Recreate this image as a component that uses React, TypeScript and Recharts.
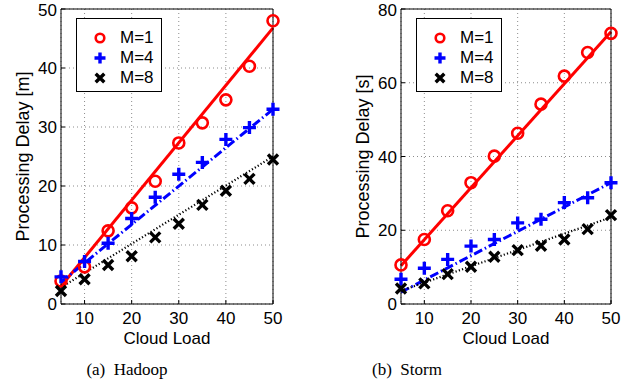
import React from 'react';
import {
  ComposedChart, Line, Scatter, XAxis, YAxis, CartesianGrid, Legend,
} from 'recharts';

const loads = [5, 10, 15, 20, 25, 30, 35, 40, 45, 50];
const fitLoads = [5, 50];

const hadoopM1 = [3.9, 6.3, 12.4, 16.3, 20.8, 27.3, 30.7, 34.6, 40.3, 48.0];
const hadoopM4 = [4.6, 7.2, 10.3, 14.5, 18.1, 22.0, 24.0, 27.9, 29.9, 33.0];
const hadoopM8 = [2.2, 4.2, 6.6, 8.1, 11.3, 13.6, 16.8, 19.2, 21.2, 24.5];
const hadoopFitM1 = [3.0, 46.8];
const hadoopFitM4 = [3.7, 33.0];
const hadoopFitM8 = [2.8, 25.0];

const stormM1 = [10.6, 17.5, 25.3, 32.9, 40.1, 46.3, 54.2, 61.8, 68.2, 73.4];
const stormM4 = [6.7, 9.7, 12.1, 15.7, 17.5, 22.0, 23.0, 27.5, 28.8, 32.9];
const stormM8 = [4.2, 5.6, 8.1, 10.1, 12.8, 14.6, 15.8, 17.5, 20.3, 24.1];
const stormFitM1 = [10.4, 73.8];
const stormFitM4 = [3.2, 32.9];
const stormFitM8 = [3.6, 23.5];

const seriesNames = ['M=1', 'M=4', 'M=8'];
const xTicks = [10, 20, 30, 40, 50];
const hadoopTicks = [0, 10, 20, 30, 40, 50];
const stormTicks = [0, 20, 40, 60, 80];

const FONT = '"Liberation Sans", Arial, Helvetica, sans-serif';

const toPoints = (xs: number[], ys: number[]) => xs.map((x, i) => ({ x, y: ys[i] }));

function Circle({ cx, cy, r = 5.5 }: any) {
  return <circle cx={cx} cy={cy} r={r} fill="none" stroke="#ff0000" strokeWidth={2.6} />;
}

function Plus({ cx, cy, s = 6.5 }: any) {
  return (
    <path
      d={`M${cx - s},${cy}H${cx + s}M${cx},${cy - s}V${cy + s}`}
      stroke="#0000ff"
      strokeWidth={3.4}
      fill="none"
    />
  );
}

function Cross({ cx, cy, s = 5 }: any) {
  return (
    <path
      d={`M${cx - s},${cy - s}L${cx + s},${cy + s}M${cx - s},${cy + s}L${cx + s},${cy - s}`}
      stroke="#000"
      strokeWidth={3.4}
      fill="none"
    />
  );
}

const markers = [Circle, Plus, Cross];

function LegendBox() {
  return (
    <div
      style={{
        width: 84,
        height: 72,
        border: '1px solid #000',
        background: '#fff',
        fontFamily: FONT,
        fontSize: 17,
        position: 'relative',
      }}
    >
      {seriesNames.map((name, i) => {
        const Mark = markers[i];
        return (
          <div key={name} style={{ position: 'absolute', left: 0, top: 9 + i * 20, height: 20, width: 84 }}>
            <svg width={40} height={20} style={{ position: 'absolute', left: 0, top: 0 }}>
              {i === 0 ? <Mark cx={23} cy={10} r={4.3} /> : <Mark cx={23} cy={10} s={i === 1 ? 5.5 : 4.3} />}
            </svg>
            <span style={{ position: 'absolute', left: 43, top: 0, lineHeight: '20px' }}>{name}</span>
          </div>
        );
      })}
    </div>
  );
}

interface PanelProps {
  left: number;
  width: number;
  rightPad: number;
  yTicks: number[];
  yLabel: string;
  values: number[][];
  fits: number[][];
}

function Panel({ left, width, rightPad, yTicks, yLabel, values, fits }: PanelProps) {
  const yMax = yTicks[yTicks.length - 1];
  const tickStyle = { fill: '#000', fontSize: 17, fontFamily: FONT };
  const lineStyles = [
    { stroke: '#ff0000', dash: undefined, w: 3 },
    { stroke: '#0000ff', dash: '9 3 1.5 3', w: 3 },
    { stroke: '#000', dash: '1.2 2.2', w: 2.2 },
  ];
  return (
    <div style={{ position: 'absolute', left, top: 0 }}>
      <ComposedChart width={width} height={350} margin={{ top: 0, right: 0, bottom: 0, left: 0 }}>
        <CartesianGrid xAxisId="b" yAxisId="l" stroke="#8c8c8c" strokeDasharray="1 3" />
        <XAxis
          xAxisId="b"
          dataKey="x"
          type="number"
          domain={[5, 50]}
          ticks={xTicks}
          height={46}
          stroke="#000"
          tickSize={-4}
          tickMargin={12}
          tick={tickStyle}
          label={{ value: 'Cloud Load', position: 'insideBottom', offset: 6, style: { fill: '#000', fontSize: 17, fontFamily: FONT } }}
        />
        <XAxis
          xAxisId="t"
          orientation="top"
          type="number"
          domain={[5, 50]}
          ticks={xTicks}
          height={9}
          stroke="#000"
          tickSize={-4}
          tickFormatter={() => ''}
        />
        <YAxis
          yAxisId="l"
          dataKey="y"
          type="number"
          domain={[0, yMax]}
          ticks={yTicks}
          width={61}
          stroke="#000"
          tickSize={-4}
          tickMargin={8}
          tick={tickStyle}
          label={{ value: yLabel, angle: -90, position: 'insideLeft', offset: 23, style: { textAnchor: 'middle', fill: '#000', fontSize: 18, fontFamily: FONT } }}
        />
        <YAxis
          yAxisId="r"
          orientation="right"
          type="number"
          domain={[0, yMax]}
          ticks={yTicks}
          width={rightPad}
          stroke="#000"
          tickSize={-4}
          tickFormatter={() => ''}
        />
        {fits.map((f, i) => (
          <Line
            key={'fit' + i}
            xAxisId="b"
            yAxisId="l"
            data={toPoints(fitLoads, f)}
            dataKey="y"
            type="linear"
            stroke={lineStyles[i].stroke}
            strokeWidth={lineStyles[i].w}
            strokeDasharray={lineStyles[i].dash}
            dot={false}
            activeDot={false}
            legendType="none"
            isAnimationActive={false}
          />
        ))}
        {values.map((v, i) => {
          const Mark = markers[i];
          return (
            <Scatter
              key={seriesNames[i]}
              name={seriesNames[i]}
              xAxisId="b"
              yAxisId="l"
              data={toPoints(loads, v)}
              shape={(p: any) => <Mark cx={p.cx} cy={p.cy} />}
              isAnimationActive={false}
            />
          );
        })}
        <Legend
          layout="vertical"
          align="center"
          verticalAlign="middle"
          wrapperStyle={{ top: 18, left: 76, width: 86, height: 74 }}
          content={() => <LegendBox />}
        />
      </ComposedChart>
    </div>
  );
}

const captionStyle: React.CSSProperties = {
  position: 'absolute',
  top: 360,
  width: 200,
  textAlign: 'center',
  fontFamily: '"Liberation Serif", "Times New Roman", serif',
  fontSize: 17,
  whiteSpace: 'pre',
};

export default function App() {
  return (
    <div style={{ position: 'absolute', left: 0, top: 0, width: 635, height: 387, background: '#fff' }}>
      <Panel
        left={0}
        width={320}
        rightPad={47}
        yTicks={hadoopTicks}
        yLabel="Processing Delay [m]"
        values={[hadoopM1, hadoopM4, hadoopM8]}
        fits={[hadoopFitM1, hadoopFitM4, hadoopFitM8]}
      />
      <Panel
        left={340}
        width={295}
        rightPad={24}
        yTicks={stormTicks}
        yLabel="Processing Delay [s]"
        values={[stormM1, stormM4, stormM8]}
        fits={[stormFitM1, stormFitM4, stormFitM8]}
      />
      <div style={{ ...captionStyle, left: 27 }}>{'(a)  Hadoop'}</div>
      <div style={{ ...captionStyle, left: 307 }}>{'(b)  Storm'}</div>
    </div>
  );
}
